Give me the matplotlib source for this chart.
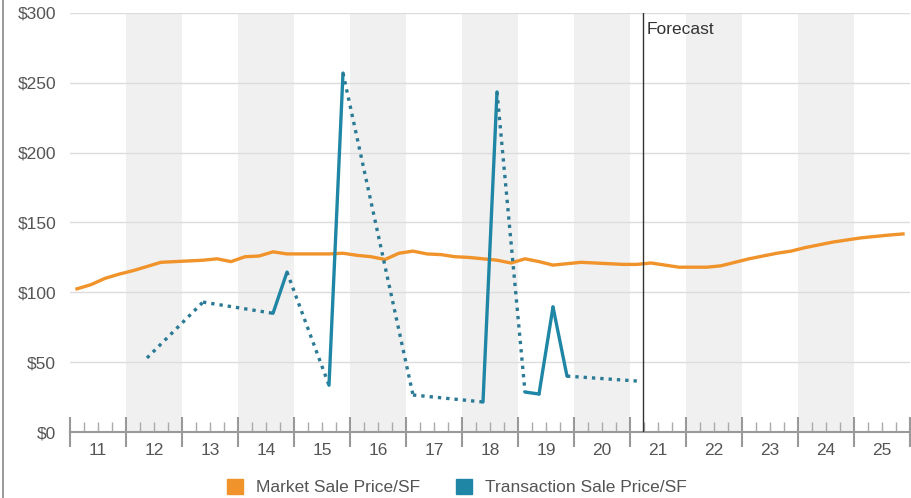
import numpy as np
import matplotlib.pyplot as plt
from matplotlib.patches import Patch
from matplotlib.lines import Line2D
from matplotlib.transforms import blended_transform_factory

# quarterly market price, 2011 Q1 .. 2025 Q4 (plotted at quarter centres)
market_start = 2011.125
market_price = [102.5, 105.5, 110, 113, 115.5, 118.5, 121.5, 122, 122.5, 123,
                124, 122, 125.5, 126, 129, 127.5, 127.5, 127.5, 127.5, 128,
                126.5, 125.5, 123.5, 128, 129.5, 127.5, 127, 125.5, 125, 124,
                123, 121, 124, 122, 119.5, 120.5, 121.5, 121, 120.5, 120,
                120, 121, 119.5, 118, 118, 118, 119, 121.5, 124, 126,
                128, 129.5, 132, 134, 136, 137.5, 139, 140, 141, 141.8]

# transactions, only the quarters that have sales
trans_x = [2012.375, 2013.375, 2014.625, 2014.875, 2015.625, 2015.875,
           2017.125, 2018.375, 2018.625, 2019.125, 2019.375, 2019.625,
           2019.875, 2021.125]
trans_price = [53, 93, 85, 114.5, 33.5, 257, 26.5, 21.5, 243.5, 28.6, 27.2,
               89.5, 40, 36.5]

years = list(range(2011, 2026))
year_labels = [str(y)[2:] for y in years]
forecast_x = 2021.23

orange = "#f0932b"
teal = "#1f86a5"
teal_dots = "#2b7a95"
txt = "#555555"
fs = 12.5

plt.rcParams["font.family"] = ["Liberation Sans", "DejaVu Sans"]

fig = plt.figure(figsize=(9.11, 4.98), dpi=100)
ax = fig.add_axes([70 / 911, 1 - 432 / 498, 840 / 911, 419 / 498])

# alternate shaded years
for y in years:
    if y % 2 == 0:
        ax.axvspan(y, y + 1, color="#f0f0f0", lw=0, zorder=0)

for v in range(50, 301, 50):
    ax.axhline(v, color="#dcdcdc", lw=1, zorder=1)

mx = market_start + 0.25 * np.arange(len(market_price))
ax.plot(mx, market_price, color=orange, lw=2.4, zorder=3, solid_joinstyle="round")

# solid between consecutive quarters, dotted over gaps
for i in range(len(trans_x) - 1):
    xs = trans_x[i:i + 2]
    ys = trans_price[i:i + 2]
    if xs[1] - xs[0] < 0.3:
        ax.plot(xs, ys, color=teal, lw=2.4, zorder=4, solid_capstyle="round")
    else:
        ax.plot(xs, ys, color=teal_dots, lw=2.4, zorder=4,
                linestyle=(0, (1, 1.5)), dash_capstyle="butt")

ax.axvline(forecast_x, color="#333333", lw=1, zorder=5)
ax.text(forecast_x + 0.07, 288.5, "Forecast", color="#333333", fontsize=fs,
        ha="left", va="center")

ax.set_xlim(2011, 2026)
ax.set_ylim(0, 300)

for s in ["top", "right", "left"]:
    ax.spines[s].set_visible(False)
ax.spines["bottom"].set_color("#999999")
ax.spines["bottom"].set_linewidth(1.5)

ax.set_xticks(years + [2026])
ax.set_xticklabels([])
ax.set_xticks(np.arange(2011, 2026.01, 0.25), minor=True)
ax.tick_params(axis="x", which="major", direction="inout", length=22,
               width=1.5, color="#999999")
ax.tick_params(axis="x", which="minor", direction="in", length=7,
               width=1, color="#aaaaaa")

trans = blended_transform_factory(ax.transData, ax.transAxes)
for y, lab in zip(years, year_labels):
    ax.text(y + 0.5, -0.045, lab, transform=trans, ha="center", va="center",
            fontsize=fs, color=txt)

ax.set_yticks(range(0, 301, 50))
ax.set_yticklabels(["$" + str(v) for v in range(0, 301, 50)])
ax.tick_params(axis="y", length=0, pad=10, labelsize=fs, labelcolor=txt)

# left border of the frame
fig.add_artist(Line2D([3 / 911, 3 / 911], [0, 1], color="#888888", lw=1.2))

handles = [Patch(facecolor=orange, edgecolor=orange),
           Patch(facecolor=teal, edgecolor=teal)]
fig.legend(handles, ["Market Sale Price/SF", "Transaction Sale Price/SF"],
           loc="center", bbox_to_anchor=(0.5016, 0.022), ncol=2, frameon=False,
           handlelength=0.92, handleheight=0.92, handletextpad=0.75,
           columnspacing=2.1, fontsize=fs, labelcolor=txt)

plt.savefig("out.png", dpi=100)
plt.close()
